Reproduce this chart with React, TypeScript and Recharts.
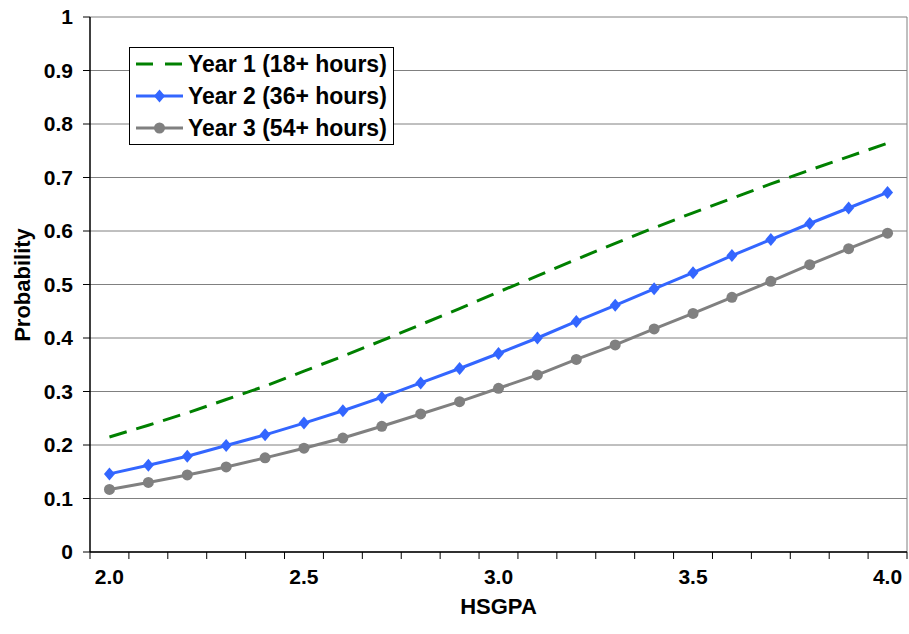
import React from "react"
import { LineChart, Line, XAxis, YAxis, CartesianGrid, ReferenceLine, Legend, Label } from "recharts"

// HSGPA categories (x values) and predicted probabilities per year
const categories = [2.0, 2.1, 2.2, 2.3, 2.4, 2.5, 2.6, 2.7, 2.8, 2.9, 3.0, 3.1, 3.2, 3.3, 3.4, 3.5, 3.6, 3.7, 3.8, 3.9, 4.0]
const year1 = [0.215, 0.237, 0.26, 0.285, 0.31, 0.338, 0.366, 0.395, 0.425, 0.455, 0.486, 0.516, 0.547, 0.577, 0.606, 0.634, 0.661, 0.688, 0.714, 0.739, 0.764]
const year2 = [0.146, 0.162, 0.179, 0.199, 0.219, 0.241, 0.264, 0.289, 0.316, 0.343, 0.371, 0.4, 0.431, 0.461, 0.492, 0.522, 0.554, 0.584, 0.614, 0.643, 0.672]
const year3 = [0.117, 0.13, 0.144, 0.159, 0.176, 0.194, 0.213, 0.235, 0.258, 0.281, 0.306, 0.331, 0.36, 0.387, 0.417, 0.446, 0.476, 0.506, 0.537, 0.567, 0.596]

const seriesNames = ["Year 1 (18+ hours)", "Year 2 (36+ hours)", "Year 3 (54+ hours)"]

const yTicks = [0, 0.1, 0.2, 0.3, 0.4, 0.5, 0.6, 0.7, 0.8, 0.9, 1]
const xLabelTicks = [2.0, 2.5, 3.0, 3.5, 4.0]
// tick marks sit between categories, like an Excel category axis
const xBoundaryTicks = [1.95, 2.05, 2.15, 2.25, 2.35, 2.45, 2.55, 2.65, 2.75, 2.85, 2.95, 3.05, 3.15, 3.25, 3.35, 3.45, 3.55, 3.65, 3.75, 3.85, 3.95, 4.05]

const data = categories.map((c, i) => ({ x: c, y1: year1[i], y2: year2[i], y3: year3[i] }))

const FONT = "'Liberation Sans', Arial, sans-serif"
const GREEN = "#008000"
const BLUE = "#3366FF"
const GRAY = "#808080"

const Diamond = (props: any) => {
  const { cx, cy } = props
  if (isNaN(cx) || isNaN(cy)) return null
  return <polygon points={`${cx},${cy - 6.5} ${cx + 5.5},${cy} ${cx},${cy + 6.5} ${cx - 5.5},${cy}`} fill={BLUE} />
}

const Dot = (props: any) => {
  const { cx, cy } = props
  if (isNaN(cx) || isNaN(cy)) return null
  return <circle cx={cx} cy={cy} r={5.5} fill={GRAY} />
}

const LegendBox = () => {
  const row = (i: number, swatch: React.ReactNode) => (
    <div key={i} style={{ display: "flex", alignItems: "center", height: 32 }}>
      <svg width={47} height={14} style={{ marginRight: 5 }}>{swatch}</svg>
      <span>{seriesNames[i]}</span>
    </div>
  )
  return (
    <div
      style={{
        border: "1px solid #000",
        background: "#fff",
        padding: "0 0 0 6px",
        fontFamily: FONT,
        fontWeight: "bold",
        fontSize: 23,
        color: "#000",
        width: 257,
        lineHeight: 1,
        whiteSpace: "nowrap",
      }}
    >
      {row(0, <line x1={0} y1={7} x2={47} y2={7} stroke={GREEN} strokeWidth={3} strokeDasharray="17 12" />)}
      {row(1, <g><line x1={0} y1={7} x2={47} y2={7} stroke={BLUE} strokeWidth={3} /><Diamond cx={23.5} cy={7} /></g>)}
      {row(2, <g><line x1={0} y1={7} x2={47} y2={7} stroke={GRAY} strokeWidth={3} /><Dot cx={23.5} cy={7} /></g>)}
    </div>
  )
}

const tickStyle = { fontSize: 21, fontWeight: "bold", fill: "#000", fontFamily: FONT }

export default function App() {
  return (
    <div style={{ position: "absolute", left: 0, top: 0, background: "#fff" }}>
      <LineChart width={909} height={634} data={data} margin={{ top: 17, right: 2, left: 0, bottom: 16 }}>
        <CartesianGrid vertical={false} stroke={GRAY} strokeWidth={1} />
        <ReferenceLine x={4.05} stroke={GRAY} strokeWidth={1} />
        <YAxis
          width={90}
          domain={[0, 1]}
          ticks={yTicks}
          interval={0}
          tickSize={7}
          tickMargin={10}
          tickFormatter={(v: number) => (v === 0 || v === 1 ? String(v) : v.toFixed(1))}
          tick={tickStyle}
          axisLine={{ stroke: "#000", strokeWidth: 1.5 }}
          tickLine={{ stroke: "#000", strokeWidth: 1 }}
        >
          <Label
            content={() => (
              <text x={22} y={285} transform="rotate(-90 22 285)" textAnchor="middle" dominantBaseline="central"
                style={{ fontSize: 22, fontWeight: "bold", fontFamily: FONT, fill: "#000" }}>
                Probability
              </text>
            )}
          />
        </YAxis>
        <XAxis
          dataKey="x"
          type="number"
          domain={[1.95, 4.05]}
          ticks={xBoundaryTicks}
          interval={0}
          height={8}
          tickSize={7}
          tick={() => <g />}
          axisLine={{ stroke: "#000", strokeWidth: 1.5 }}
          tickLine={{ stroke: "#000", strokeWidth: 1 }}
        />
        <XAxis
          xAxisId="labels"
          dataKey="x"
          type="number"
          domain={[1.95, 4.05]}
          ticks={xLabelTicks}
          interval={0}
          height={58}
          tickSize={0}
          tickMargin={9}
          tickFormatter={(v: number) => v.toFixed(1)}
          tick={tickStyle}
          axisLine={false}
          tickLine={false}
        >
          <Label
            content={() => (
              <text x={498.5} y={606} textAnchor="middle" dominantBaseline="central"
                style={{ fontSize: 22, fontWeight: "bold", fontFamily: FONT, fill: "#000" }}>
                HSGPA
              </text>
            )}
          />
        </XAxis>
        <Legend
          layout="vertical"
          align="center"
          verticalAlign="middle"
          content={<LegendBox />}
          wrapperStyle={{ left: 129, top: 47, width: 266 }}
        />
        <Line dataKey="y1" name={seriesNames[0]} stroke={GREEN} strokeWidth={3} strokeDasharray="18 10" dot={false} activeDot={false} isAnimationActive={false} />
        <Line dataKey="y2" name={seriesNames[1]} stroke={BLUE} strokeWidth={3} dot={<Diamond />} activeDot={false} isAnimationActive={false} />
        <Line dataKey="y3" name={seriesNames[2]} stroke={GRAY} strokeWidth={3} dot={<Dot />} activeDot={false} isAnimationActive={false} />
      </LineChart>
    </div>
  )
}
